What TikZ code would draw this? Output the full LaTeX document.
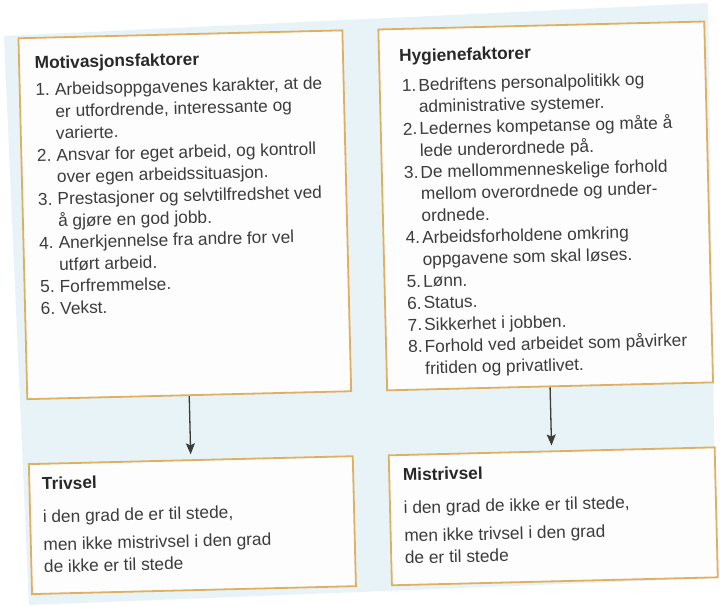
\documentclass[tikz,border=0pt]{standalone}
\usepackage{fontspec}
\setmainfont{Liberation Sans}
\usetikzlibrary{arrows.meta}

\definecolor{pagebg}{RGB}{231,243,246}
\definecolor{frame}{RGB}{224,176,98}
\definecolor{boxfill}{RGB}{252,253,252}
\definecolor{ink}{RGB}{60,60,60}
\definecolor{inkdark}{RGB}{40,40,40}

% list numbers with hanging indent
\newcommand\nrL[1]{\makebox[19.5pt][l]{#1}}
\newcommand\inL{\hspace*{19.5pt}}
\newcommand\nrR[1]{\makebox[16.5pt][l]{#1}}
\newcommand\inR{\hspace*{16.5pt}}

\begin{document}
\begin{tikzpicture}[x=1pt,y=1pt,
  panel/.style={draw=frame, line width=1.8pt, fill=boxfill, inner sep=0pt, transform shape},
  heading/.style={anchor=base west, inner sep=0pt, text=inkdark,
    font=\fontsize{17.3}{20}\selectfont\bfseries, transform shape},
  entry/.style={anchor=base west, inner sep=0pt, text=ink,
    font=\fontsize{17.3}{20}\selectfont, transform shape},
  flow/.style={draw=ink, line width=1.3pt,
    -{Stealth[length=11pt,width=9pt,inset=2pt]}, shorten >=5pt}]
\useasboundingbox (0,0) rectangle (720,605);
\fill[white] (0,0) rectangle (720,605);
% the page
\fill[pagebg] (4,569) -- (708,602) -- (716,27) -- (29,0) -- cycle;

\begin{scope}[rotate around={1.4:(360,302.5)}]
  % frames
  \node[panel, minimum width=324, minimum height=361] (mot) at (187,394.5) {};
  \node[panel, minimum width=326, minimum height=361] (hyg) at (548,394.5) {};
  \node[panel, minimum width=324, minimum height=130] (tri) at (187,84) {};
  \node[panel, minimum width=326, minimum height=130] (mis) at (548,84) {};

  % motivation factors
  \node[heading] (motH) at (40.5,544) {Motivasjonsfaktorer};
  \foreach \t [count=\i] in {
    {\nrL{1.}Arbeidsoppgavenes karakter, at de},
    {\inL er utfordrende, interessante og},
    {\inL varierte.},
    {\nrL{2.}Ansvar for eget arbeid, og kontroll},
    {\inL over egen arbeidssituasjon.},
    {\nrL{3.}Prestasjoner og selvtilfredshet ved},
    {\inL å gjøre en god jobb.},
    {\nrL{4.}Anerkjennelse fra andre for vel},
    {\inL utført arbeid.},
    {\nrL{5.}Forfremmelse.},
    {\nrL{6.}Vekst.}}
    {\node[entry] (mot-\i) at (40.5,{517-(\i-1)*21.9}) {\t};}

  % hygiene factors
  \node[heading] (hygH) at (405,542) {Hygienefaktorer};
  \foreach \t [count=\i] in {
    {\nrR{1.}Bedriftens personalpolitikk og},
    {\inR administrative systemer.},
    {\nrR{2.}Ledernes kompetanse og måte å},
    {\inR lede underordnede på.},
    {\nrR{3.}De mellommenneskelige forhold},
    {\inR mellom overordnede og under-},
    {\inR ordnede.},
    {\nrR{4.}Arbeidsforholdene omkring},
    {\inR oppgavene som skal løses.},
    {\nrR{5.}Lønn.},
    {\nrR{6.}Status.},
    {\nrR{7.}Sikkerhet i jobben.},
    {\nrR{8.}Forhold ved arbeidet som påvirker},
    {\inR fritiden og privatlivet.}}
    {\node[entry] (hyg-\i) at (407,{512.5-(\i-1)*21.8}) {\t};}

  % outcomes
  \node[heading] (triH) at (37.5,123) {Trivsel};
  \node[entry] (tri-1) at (37.5,90) {i den grad de er til stede,};
  \node[entry] (tri-2) at (37.5,62) {men ikke mistrivsel i den grad};
  \node[entry] (tri-3) at (37.5,40) {de ikke er til stede};

  \node[heading] (misH) at (398.5,123) {Mistrivsel};
  \node[entry] (mis-1) at (398.5,90) {i den grad de ikke er til stede,};
  \node[entry] (mis-2) at (398.5,62) {men ikke trivsel i den grad};
  \node[entry] (mis-3) at (398.5,40) {de er til stede};

  % connectors
  \draw[flow] (mot) -- (tri);
  \draw[flow] (hyg) -- (mis);
\end{scope}
\end{tikzpicture}
\end{document}
